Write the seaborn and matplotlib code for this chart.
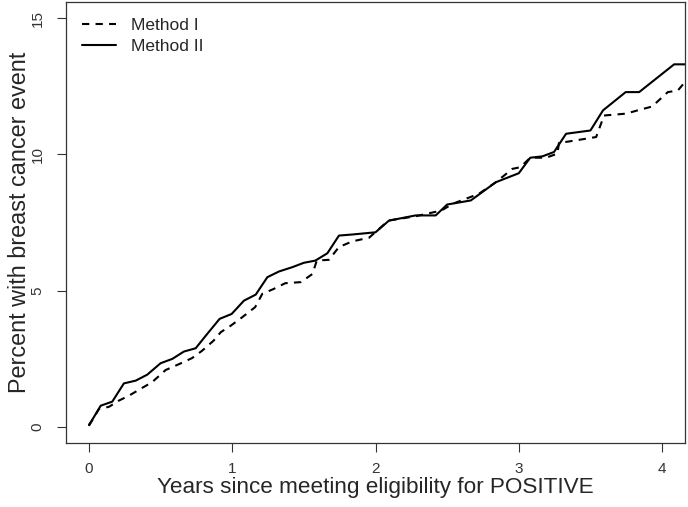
import numpy as np
import pandas as pd
import matplotlib
matplotlib.use("Agg")
import matplotlib.pyplot as plt
import seaborn as sns

# Method I (dashed)
years_m1 = [0.0, 0.07, 0.14, 0.21, 0.28, 0.36, 0.44, 0.535, 0.63, 0.72, 0.79, 0.87,
            0.92, 0.99, 1.07, 1.16, 1.21, 1.29, 1.37, 1.48, 1.56, 1.59, 1.675, 1.745,
            1.84, 1.955, 2.09, 2.28, 2.46, 2.54, 2.63, 2.72, 2.84, 2.955, 3.01, 3.08,
            3.19, 3.27, 3.28, 3.39, 3.54, 3.595, 3.75, 3.83, 3.93, 4.04, 4.11, 4.16]
pct_m1 = [0.03, 0.65, 0.73, 0.96, 1.14, 1.39, 1.63, 2.08, 2.30, 2.52, 2.79, 3.16,
          3.47, 3.71, 4.02, 4.39, 4.88, 5.06, 5.27, 5.31, 5.61, 6.10, 6.13, 6.60,
          6.81, 6.94, 7.57, 7.73, 7.94, 8.19, 8.37, 8.55, 8.98, 9.47, 9.53, 9.88,
          9.88, 10.03, 10.42, 10.51, 10.64, 11.43, 11.50, 11.62, 11.76, 12.29, 12.35, 12.66]

# Method II (solid)
years_m2 = [0.0, 0.023, 0.082, 0.163, 0.244, 0.326, 0.407, 0.50, 0.582, 0.663, 0.745,
            0.826, 0.912, 0.996, 1.082, 1.164, 1.245, 1.326, 1.42, 1.50, 1.58, 1.664,
            1.745, 1.84, 2.0, 2.094, 2.28, 2.42, 2.50, 2.665, 2.84, 3.0, 3.08, 3.165,
            3.246, 3.33, 3.50, 3.588, 3.746, 3.84, 4.084, 4.16]
pct_m2 = [0.07, 0.25, 0.77, 0.92, 1.59, 1.69, 1.91, 2.33, 2.49, 2.76, 2.88,
          3.41, 3.96, 4.14, 4.63, 4.85, 5.49, 5.70, 5.86, 6.02, 6.10, 6.37,
          7.02, 7.06, 7.14, 7.57, 7.76, 7.76, 8.16, 8.31, 8.98, 9.31, 9.88, 9.93,
          10.09, 10.76, 10.88, 11.62, 12.29, 12.29, 13.31, 13.31]

y_ticks = [0, 5, 10, 15]
x_ticks = [0, 1, 2, 3, 4]

sns.set_style("white")
plt.rcParams['font.family'] = ['Liberation Sans', 'DejaVu Sans']

fig = plt.figure(figsize=(6.88, 5.07), dpi=100)
ax = fig.add_axes([66 / 688, 64 / 507, 619 / 688, 441 / 507])

df1 = pd.DataFrame({'years': years_m1, 'pct': pct_m1})
df2 = pd.DataFrame({'years': years_m2, 'pct': pct_m2})

sns.lineplot(data=df1, x='years', y='pct', ax=ax, color='black', lw=1.5,
             estimator=None, sort=False, label='Method I')
ax.lines[-1].set_dashes((3.5, 3))
sns.lineplot(data=df2, x='years', y='pct', ax=ax, color='black', lw=1.5,
             estimator=None, sort=False, label='Method II')

ax.set_xlim(-0.16, 4.16)
ax.set_ylim(-0.6, 15.6)
ax.set_xticks(x_ticks)
ax.set_yticks(y_ticks)
ax.set_xticklabels([str(t) for t in x_ticks], fontsize=11)
ax.set_yticklabels([str(t) for t in y_ticks], fontsize=11, rotation=90, va='center')
ax.tick_params(axis='both', direction='out', length=6.5, width=0.8, color='#333333',
               labelcolor='#333333', bottom=True, left=True, pad=7)
ax.tick_params(axis='y', pad=9)

for s in ax.spines.values():
    s.set_color('#333333')
    s.set_linewidth(0.9)

ax.set_xlabel('Years since meeting eligibility for POSITIVE', fontsize=16.2)
ax.xaxis.set_label_coords(0.5, -0.078)
ax.set_ylabel('Percent with breast cancer event', fontsize=16.8)
ax.yaxis.set_label_coords(-0.057, 0.5)

leg = ax.legend(loc='upper left', frameon=False, fontsize=12.5, handlelength=2.0,
                borderaxespad=0.5, labelspacing=0.35, handletextpad=0.85)
leg_lines = leg.get_lines()
leg_lines[0].set_dashes((3.5, 3))

fig.savefig('out.png', dpi=100)
